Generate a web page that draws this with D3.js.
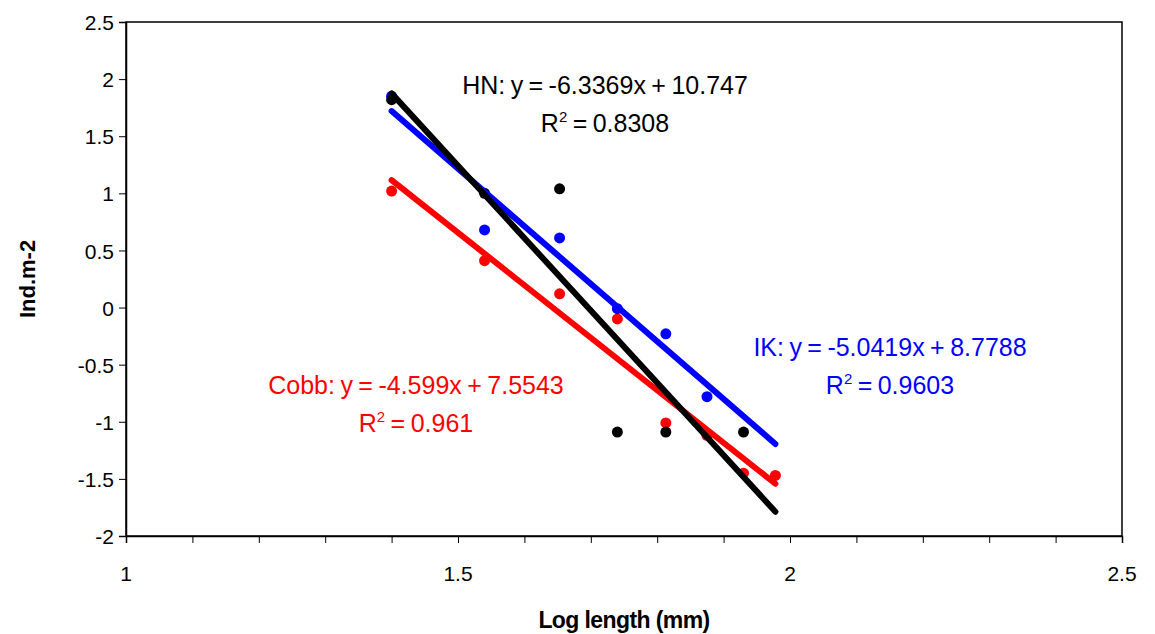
<!DOCTYPE html>
<html>
<head>
<meta charset="utf-8">
<script src="https://cdn.jsdelivr.net/npm/d3@7"></script>
<style>
  body { margin: 0; background: #fff; }
  text { font-family: 'Liberation Sans', Arial, sans-serif; }
</style>
</head>
<body>
<svg id="chart" width="1155" height="634"></svg>
<script>
// data
var logLength = [1.4, 1.54, 1.653, 1.74, 1.813, 1.875, 1.93, 1.978]
var hnValues = [1.82, 1.0, 1.04, -1.09, -1.09, null, -1.09, null]
var ikValues = [1.85, 0.68, 0.61, -0.01, -0.23, -0.78, null, null]
var cobbValues = [1.02, 0.41, 0.12, -0.10, -1.01, -1.12, -1.45, -1.47]

var seriesNames = ['Cobb', 'IK', 'HN']
var seriesColors = ['#ff0000', '#0000ff', '#000000']
var slopes = [-4.599, -5.0419, -6.3369]
var intercepts = [7.5543, 8.7788, 10.747]
var r2Values = ['0.961', '0.9603', '0.8308']
var eqLabels = ['Cobb: y = -4.599x + 7.5543', 'IK: y = -5.0419x + 8.7788', 'HN: y = -6.3369x + 10.747']

var xTicks = [1, 1.5, 2, 2.5]
var yTicks = [-2, -1.5, -1, -0.5, 0, 0.5, 1, 1.5, 2, 2.5]

var svg = d3.select('#chart'),
  margin = {top: 22, right: 33, bottom: 98, left: 126},
  width = +svg.attr('width') - margin.left - margin.right,
  height = +svg.attr('height') - margin.top - margin.bottom

var x = d3.scaleLinear().domain([1, 2.5]).range([0, width])
var y = d3.scaleLinear().domain([-2, 2.5]).range([height, 0])

var g = svg.append('g')
  .attr('transform', 'translate(' + margin.left + ',' + margin.top + ')')

// plot frame
g.append('rect')
  .attr('x', 0).attr('y', 0)
  .attr('width', width).attr('height', height)
  .attr('fill', 'none')
  .attr('stroke', '#000')
  .attr('stroke-width', 1.5)

// y axis
var yAxis = g.append('g')
  .call(d3.axisLeft(y).tickValues(yTicks).tickSize(7).tickFormat(function (d) { return d }))
yAxis.select('.domain').attr('stroke-width', 1.5)
yAxis.selectAll('text').attr('font-size', 21).attr('fill', '#000').attr('dx', -2).attr('dy', '0.36em')

// x axis, minor ticks every 0.1
var xAxis = g.append('g')
  .attr('transform', 'translate(0,' + height + ')')
  .call(d3.axisBottom(x).tickValues(d3.range(10, 26).map(function (d) { return d / 10 })).tickSize(7).tickFormat(''))
xAxis.select('.domain').attr('stroke-width', 1.5)

g.append('g')
  .selectAll('text')
  .data(xTicks)
  .enter().append('text')
  .attr('x', function (d) { return x(d) })
  .attr('y', height + 45)
  .attr('text-anchor', 'middle')
  .attr('font-size', 21)
  .text(function (d) { return d })

// axis titles
svg.append('text')
  .attr('x', margin.left + x(1.75))
  .attr('y', 628)
  .attr('text-anchor', 'middle')
  .attr('font-size', 23)
  .attr('font-weight', 'bold')
  .attr('letter-spacing', -0.6)
  .text('Log length (mm)')

svg.append('text')
  .attr('transform', 'translate(35,' + (margin.top + y(0.25)) + ') rotate(-90)')
  .attr('text-anchor', 'middle')
  .attr('font-size', 22)
  .attr('font-weight', 'bold')
  .text('Ind.m-2')

// points
var allValues = [cobbValues, ikValues, hnValues]
allValues.forEach(function (vals, i) {
  var pts = logLength.map(function (lx, j) { return {x: lx, y: vals[j]} })
    .filter(function (d) { return d.y !== null })
  g.append('g')
    .selectAll('circle')
    .data(pts)
    .enter().append('circle')
    .attr('cx', function (d) { return x(d.x) })
    .attr('cy', function (d) { return y(d.y) })
    .attr('r', 5.5)
    .attr('fill', seriesColors[i])
})

// trend lines over the range of the data
var xMin = d3.min(logLength), xMax = d3.max(logLength)
var line = d3.line().x(function (d) { return x(d[0]) }).y(function (d) { return y(d[1]) })
seriesNames.forEach(function (name, i) {
  g.append('path')
    .datum([[xMin, slopes[i] * xMin + intercepts[i]], [xMax, slopes[i] * xMax + intercepts[i]]])
    .attr('d', line)
    .attr('fill', 'none')
    .attr('stroke', seriesColors[i])
    .attr('stroke-width', 6)
    .attr('stroke-linecap', 'round')
})

// equation labels
var labelPos = [[416, 394], [890, 356], [605, 94]]
seriesNames.forEach(function (name, i) {
  svg.append('text')
    .attr('x', labelPos[i][0])
    .attr('y', labelPos[i][1])
    .attr('text-anchor', 'middle')
    .attr('font-size', 25)
    .attr('word-spacing', -1.5)
    .attr('fill', seriesColors[i])
    .text(eqLabels[i])
  var r = svg.append('text')
    .attr('x', labelPos[i][0])
    .attr('y', labelPos[i][1] + 38)
    .attr('text-anchor', 'middle')
    .attr('font-size', 25)
    .attr('word-spacing', -1.5)
    .attr('fill', seriesColors[i])
  r.append('tspan').text('R')
  r.append('tspan').attr('font-size', 15).attr('dy', -10).text('2')
  r.append('tspan').attr('dy', 10).text(' = ' + r2Values[i])
})
</script>
</body>
</html>
